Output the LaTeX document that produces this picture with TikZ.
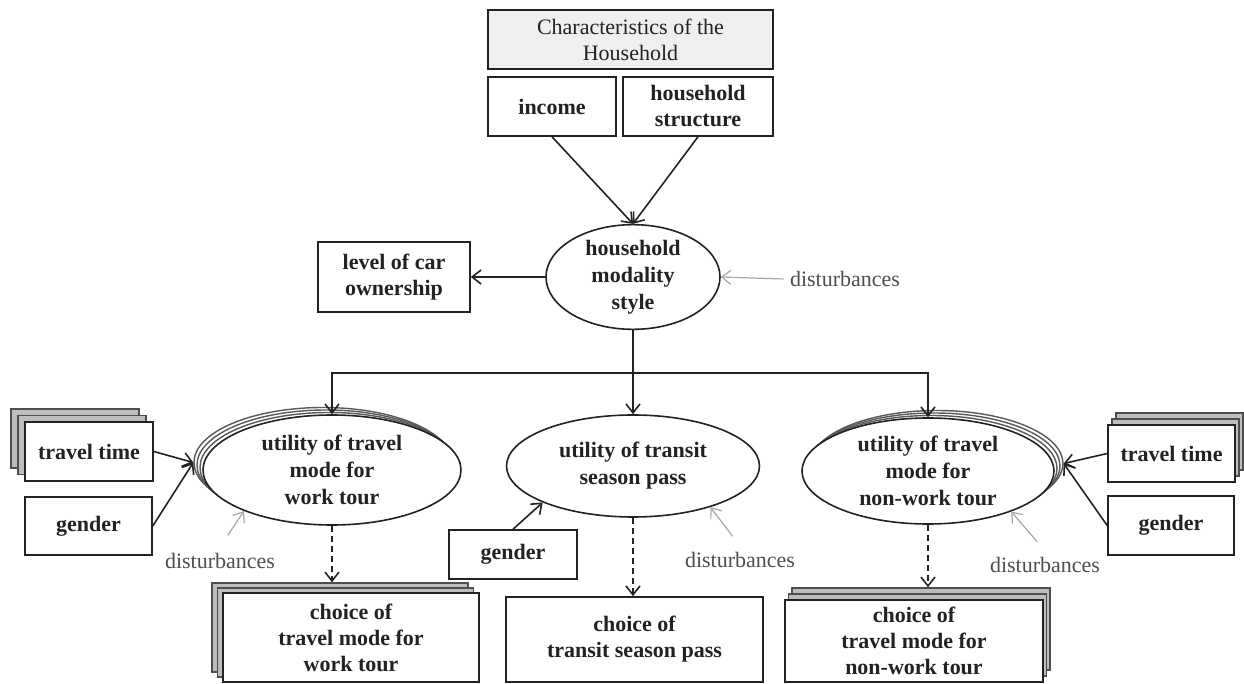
\documentclass[tikz,border=0pt]{standalone}
\usepackage{fontspec}
\setmainfont{Liberation Serif}
\usetikzlibrary{arrows.meta,shapes.geometric}
\definecolor{ink}{HTML}{222222}
\definecolor{topfill}{HTML}{EFEFEF}
\definecolor{backfill}{HTML}{BDBDBD}
\begin{document}
\begin{tikzpicture}[x=0.5pt,y=-0.5pt,
  font=\fontsize{11}{13}\selectfont,
  >={Straight Barb[length=4.5pt,width=7pt]},
  bx/.style={draw=ink, line width=0.8pt, fill=white, inner sep=1pt, align=center, text=ink, font=\fontsize{11}{13}\selectfont\bfseries},
  backbx/.style={draw=ink!80, line width=0.7pt, fill=backfill, inner sep=0pt},
  ell/.style={ellipse, draw=ink, line width=0.8pt, fill=white, inner sep=0pt, align=center, text=ink, font=\fontsize{11}{13.5}\selectfont\bfseries},
  backell/.style={ellipse, draw=ink!75, line width=0.7pt, fill=white, inner sep=0pt},
  conn/.style={->, draw=ink, line width=0.8pt},
  dashconn/.style={->, draw=ink, line width=0.8pt, dash pattern=on 3pt off 2pt},
  distarr/.style={->, draw=gray!70, line width=0.6pt},
  dist/.style={text=ink!80, inner sep=3pt}
]
\path[use as bounding box] (0,0) rectangle (1244,684);

% top block
\node[bx, fill=topfill, font=\fontsize{11}{13}\selectfont, minimum width=142.5pt, minimum height=29.5pt] (char) at (630.5,39.5) {Characteristics of the\\Household};
\node[bx, minimum width=64pt, minimum height=29.5pt] (inc) at (552,106.5) {income};
\node[bx, minimum width=75pt, minimum height=29.5pt] (hst) at (698,106.5) {household\\structure};

% household modality style
\node[ell, minimum width=87pt, minimum height=49pt] (hms) at (633,277) {household\\modality\\style};
\node[bx, minimum width=76pt, minimum height=35pt] (car) at (394,277) {level of car\\ownership};
\node[dist] (dist0) at (845,279) {disturbances};

% left ellipse (stacked)
\node[backell, minimum width=129pt, minimum height=55pt] (uwc) at (323,462.5) {};
\node[backell, minimum width=129pt, minimum height=55pt] (uwb) at (326,465) {};
\node[backell, minimum width=129pt, minimum height=55pt] (uwa) at (329,467.5) {};
\node[ell, minimum width=129pt, minimum height=55pt] (uw) at (332,470) {utility of travel\\mode for\\work tour};

% center ellipse
\node[ell, minimum width=126.5pt, minimum height=51pt] (ut) at (633,466) {utility of transit\\season pass};

% right ellipse (stacked)
\node[backell, minimum width=126pt, minimum height=53pt] (unwc) at (937,463.5) {};
\node[backell, minimum width=126pt, minimum height=53pt] (unwb) at (934,466) {};
\node[backell, minimum width=126pt, minimum height=53pt] (unwa) at (931,468.5) {};
\node[ell, minimum width=126pt, minimum height=53pt] (unw) at (928,471) {utility of travel\\mode for\\non-work tour};

% left inputs
\node[backbx, minimum width=64pt, minimum height=29.5pt] (tt1b) at (75,438.5) {};
\node[backbx, minimum width=64pt, minimum height=29.5pt] (tt1a) at (82,445) {};
\node[bx, minimum width=64pt, minimum height=29.5pt] (tt1) at (89,451.5) {travel time};
\node[bx, minimum width=63.5pt, minimum height=29pt] (g1) at (88.5,526) {gender};
\node[dist] (dl) at (220,561) {disturbances};

% center inputs
\node[bx, minimum width=64pt, minimum height=24.5pt] (gm) at (513,554.5) {gender};
\node[dist] (dm) at (740,560) {disturbances};

% right inputs
\node[backbx, minimum width=63.5pt, minimum height=28.5pt] (tt2b) at (1179.5,441.5) {};
\node[backbx, minimum width=63.5pt, minimum height=28.5pt] (tt2a) at (1175.5,447.5) {};
\node[bx, minimum width=63.5pt, minimum height=28.5pt] (tt2) at (1171.5,453.5) {travel time};
\node[bx, minimum width=63pt, minimum height=29.5pt] (g2) at (1171,525.5) {gender};
\node[dist] (dr) at (1045,565) {disturbances};

% choice boxes
\node[backbx, minimum width=128pt, minimum height=44.5pt] (c1b) at (340,627.5) {};
\node[backbx, minimum width=128pt, minimum height=44.5pt] (c1a) at (345.5,632.5) {};
\node[bx, minimum width=128pt, minimum height=44.5pt] (c1) at (351,637.5) {choice of\\travel mode for\\work tour};

\node[bx, minimum width=128.5pt, minimum height=42.5pt] (c2) at (634.5,639.5) {choice of\\transit season pass};

\node[backbx, minimum width=129pt, minimum height=41pt] (c3b) at (921,629) {};
\node[backbx, minimum width=129pt, minimum height=41pt] (c3a) at (917.5,635) {};
\node[bx, minimum width=129pt, minimum height=41pt] (c3) at (914,641) {choice of\\travel mode for\\non-work tour};

% connectors
\draw[conn] (inc.south) -- (hms.north);
\draw[conn] (hst.south) -- (hms.north);
\draw[conn] (hms.west) -- (car.east);
\draw[distarr] (dist0.west) -- (hms.east);

\coordinate (split) at (633,373);
\draw[draw=ink, line width=0.8pt] (hms.south) -- (split);
\draw[conn] (split) -- (ut.north);
\draw[conn] (split) -| (uw.north);
\draw[conn] (split) -| (unw.north);

\draw[conn] (tt1.east) -- (uwc.west);
\draw[conn] (g1.east) -- (uwc.west);
\draw[distarr, shorten <=7pt] (dl.north) -- (uw.205);

\draw[conn] (gm.north) -- (ut.202);
\draw[distarr, shorten <=6pt] (dm.north) -- (ut.-28);

\draw[conn] (tt2.west) -- (unwc.east);
\draw[conn] (g2.west) -- (unwc.east);
\draw[distarr, shorten <=6pt] (dr.north) -- (unw.-26);

\draw[dashconn] (uw.south) -- (uw.south |- c1b.north);
\draw[dashconn] (ut.south) -- (ut.south |- c2.north);
\draw[dashconn] (unw.south) -- (unw.south |- c3b.north);
\end{tikzpicture}
\end{document}
